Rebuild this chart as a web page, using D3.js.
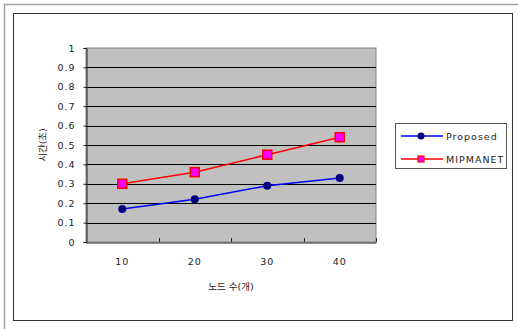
<!DOCTYPE html>
<html><head><meta charset="utf-8">
<script src="https://cdn.jsdelivr.net/npm/d3@7/dist/d3.min.js"></script>
<style>
body{margin:0;background:#fff;}
text{font-family:"DejaVu Sans","Noto Sans CJK KR",sans-serif;}
</style></head><body>
<svg id="c" width="518" height="329"></svg>
<script>
const categories = ["10","20","30","40"];
const proposed = [0.17, 0.22, 0.29, 0.33];
const mipmanet = [0.30, 0.36, 0.45, 0.54];
const yTicks = [0,0.1,0.2,0.3,0.4,0.5,0.6,0.7,0.8,0.9,1];
const seriesNames = ["Proposed","MIPMANET"];
const yTitle = "시간(초)";
const xTitle = "노드 수(개)";

const svg = d3.select("#c");
// frames
svg.append("rect").attr("x",4.5).attr("y",4.5).attr("width",530).attr("height",340)
  .attr("fill","none").attr("stroke","#a0a0a0").attr("stroke-width",1.5);
svg.append("rect").attr("x",13.5).attr("y",13.5).attr("width",499).attr("height",307)
  .attr("fill","#fff").attr("stroke","#333").attr("stroke-width",1);

const L=86, T=48, R=376, B=242;
const x = d3.scaleBand().domain(categories).range([L,R]).padding(0);
const y = d3.scaleLinear().domain([0,1]).range([B,T]);

svg.append("rect").attr("x",L).attr("y",T).attr("width",R-L).attr("height",B-T)
  .attr("fill","#c0c0c0").attr("stroke","#808080").attr("stroke-width",1);

// gridlines
svg.append("g").selectAll("line").data(yTicks.filter(d=>d>0&&d<1)).join("line")
  .attr("x1",L).attr("x2",R).attr("y1",d=>Math.round(y(d))+0.5).attr("y2",d=>Math.round(y(d))+0.5)
  .attr("stroke","#000").attr("stroke-width",1);

// y axis
const ya = svg.append("g").attr("transform",`translate(${L+0.5},0)`)
  .call(d3.axisLeft(y).tickValues(yTicks).tickSize(3).tickPadding(8).tickFormat(d=>d===0?"0":d===1?"1":d3.format(".1f")(d)));
ya.select(".domain").attr("stroke","#222");
ya.selectAll(".tick line").attr("stroke","#222");
ya.selectAll("text").attr("font-size",9.5).attr("fill","#222").attr("letter-spacing","1px");

// x axis
const xa = svg.append("g").attr("transform",`translate(0,${B+0.5})`)
  .call(d3.axisBottom(x).tickSize(0).tickPadding(16));
xa.select(".domain").attr("stroke","#222");
xa.selectAll("text").attr("font-size",9.5).attr("fill","#222").attr("letter-spacing","1px");
// inward ticks at band boundaries
svg.append("g").selectAll("line").data(categories.slice(1).concat(["end"])).join("line")
  .attr("x1",d=>Math.round(d==="end"?R:x(d))+0.5).attr("x2",d=>Math.round(d==="end"?R:x(d))+0.5)
  .attr("y1",B).attr("y2",B-4).attr("stroke","#222");

const cx = d=>x(d)+x.bandwidth()/2;
const line = d3.line().x((d,i)=>cx(categories[i])).y(d=>y(d));

svg.append("path").datum(proposed).attr("d",line).attr("fill","none").attr("stroke","#0000ff").attr("stroke-width",1.5);
svg.append("path").datum(mipmanet).attr("d",line).attr("fill","none").attr("stroke","#ff0000").attr("stroke-width",1.5);

svg.append("g").selectAll("circle").data(proposed).join("circle")
  .attr("cx",(d,i)=>cx(categories[i])).attr("cy",d=>y(d)).attr("r",4).attr("fill","#000080");
svg.append("g").selectAll("rect").data(mipmanet).join("rect")
  .attr("x",(d,i)=>cx(categories[i])-4.5).attr("y",d=>y(d)-4.5).attr("width",9).attr("height",9)
  .attr("fill","#ff00ff").attr("stroke","#ff0000").attr("stroke-width",1.5);

// titles
svg.append("text").attr("transform",`translate(46,${(T+B)/2}) rotate(-90)`).attr("text-anchor","middle")
  .attr("font-size",9.5).attr("fill","#222").text(yTitle);
svg.append("text").attr("x",231).attr("y",290).attr("text-anchor","middle")
  .attr("font-size",9.5).attr("fill","#222").text(xTitle);

// legend
svg.append("rect").attr("x",395.5).attr("y",123.5).attr("width",111).attr("height",45)
  .attr("fill","#fff").attr("stroke","#555").attr("stroke-width",1);
const lg = svg.append("g").selectAll("g").data(seriesNames).join("g")
  .attr("transform",(d,i)=>`translate(0,${136+i*23})`);
lg.append("line").attr("x1",401).attr("x2",443).attr("y1",0).attr("y2",0)
  .attr("stroke",(d,i)=>i?"#ff0000":"#0000ff").attr("stroke-width",1.5);
lg.filter((d,i)=>i===0).append("circle").attr("cx",421).attr("cy",0).attr("r",3.5).attr("fill","#000080");
lg.filter((d,i)=>i===1).append("rect").attr("x",418).attr("y",-3).attr("width",6).attr("height",6)
  .attr("fill","#ff00ff").attr("stroke","#ff0000").attr("stroke-width",1.2);
lg.append("text").attr("x",446).attr("y",3.5).attr("font-size",9.5).attr("fill","#222")
  .attr("letter-spacing","1px").text(d=>d);
</script></body></html>
